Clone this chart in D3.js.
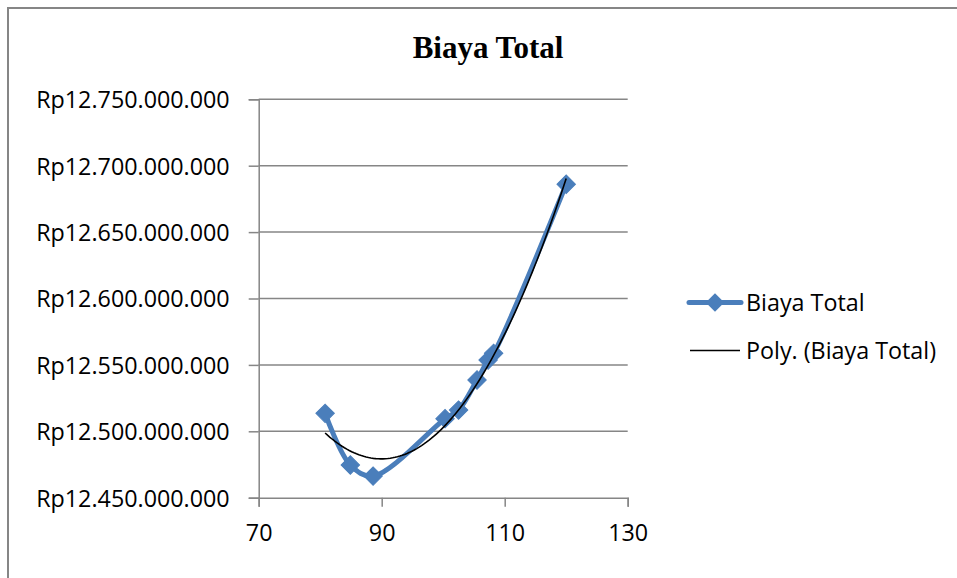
<!DOCTYPE html>
<html>
<head>
<meta charset="utf-8">
<script src="https://cdn.jsdelivr.net/npm/d3@7/dist/d3.min.js"></script>
<style>
  html, body { margin: 0; padding: 0; background: #fff; }
  svg { display: block; }
</style>
</head>
<body>
<svg id="chart" width="957" height="578"></svg>
<script>
// Output level (x) against total cost in rupiah (y)
const outputLevels = [80.8, 84.9, 88.6, 100.3, 102.5, 105.5, 107.3, 108.2, 120.0];
const totalCost = [12513500000, 12474600000, 12466300000, 12509500000, 12516000000,
                   12538600000, 12553600000, 12558700000, 12686000000];
const xTicks = [70, 90, 110, 130];
const yTicks = [12450000000, 12500000000, 12550000000, 12600000000, 12650000000, 12700000000, 12750000000];
const seriesName = "Biaya Total";
const trendName = "Poly. (Biaya Total)";

const svg = d3.select("#chart");
const blue = "#4A7EBB";
const gridColor = "#868686";
const labelFont = "'Open Sans', sans-serif";
const labelSize = 23.3;

const x = d3.scaleLinear().domain([70, 130]).range([258.7, 627.7]);
const y = d3.scaleLinear().domain([12450000000, 12750000000]).range([497.7, 99.3]);

// outer chart frame
svg.append("path")
  .attr("d", "M8,600 L8,8 L980,8")
  .attr("fill", "none").attr("stroke", gridColor).attr("stroke-width", 2);

// title
svg.append("text")
  .attr("x", 488).attr("y", 58)
  .attr("text-anchor", "middle")
  .attr("font-family", "'Liberation Serif', 'Times New Roman', serif")
  .attr("font-weight", "bold").attr("font-size", 31)
  .text("Biaya Total");

// horizontal gridlines
svg.append("g").selectAll("line").data(yTicks.slice(1)).join("line")
  .attr("x1", x(70)).attr("x2", x(130))
  .attr("y1", d => y(d)).attr("y2", d => y(d))
  .attr("stroke", gridColor).attr("stroke-width", 1.5);

// y axis
const fmtRp = d => "Rp" + d3.format(",")(d).replace(/,/g, ".");
const yAxis = svg.append("g")
  .attr("transform", `translate(${x(70)},0)`)
  .call(d3.axisLeft(y).tickValues(yTicks).tickSize(10).tickPadding(19).tickFormat(fmtRp));
yAxis.select(".domain").attr("stroke", gridColor).attr("stroke-width", 1.5);
yAxis.selectAll(".tick line").attr("stroke", gridColor).attr("stroke-width", 1.5);
yAxis.selectAll("text")
  .attr("font-family", labelFont).attr("font-size", labelSize)
  .attr("fill", "#000").attr("dy", "0.36em");

// x axis
const xAxis = svg.append("g")
  .attr("transform", `translate(0,${y(12450000000)})`)
  .call(d3.axisBottom(x).tickValues(xTicks).tickSize(9).tickPadding(18).tickFormat(d3.format("d")));
xAxis.select(".domain").attr("stroke", gridColor).attr("stroke-width", 1.5);
xAxis.selectAll(".tick line").attr("stroke", gridColor).attr("stroke-width", 1.5);
xAxis.selectAll("text")
  .attr("font-family", labelFont).attr("font-size", labelSize)
  .attr("fill", "#000").attr("dy", "0.72em");

// series line and diamond markers
const pts = outputLevels.map((v, i) => [v, totalCost[i]]);
svg.append("path")
  .datum(pts)
  .attr("fill", "none").attr("stroke", blue).attr("stroke-width", 5)
  .attr("stroke-linejoin", "round").attr("stroke-linecap", "round")
  .attr("d", d3.line().x(d => x(d[0])).y(d => y(d[1])).curve(d3.curveCatmullRom.alpha(0.5)));

const diamond = d3.symbol().type(d3.symbolSquare).size(170);
svg.append("g").selectAll("path").data(pts).join("path")
  .attr("transform", d => `translate(${x(d[0])},${y(d[1])}) rotate(45)`)
  .attr("d", diamond)
  .attr("fill", blue).attr("stroke", blue).attr("stroke-width", 1);

// second-order polynomial trendline (least squares)
function polyFit2(xs, ys) {
  const mx = d3.mean(xs);
  const u = xs.map(v => v - mx);
  const s = k => d3.sum(u, v => Math.pow(v, k));
  const t = k => d3.sum(u, (v, i) => Math.pow(v, k) * ys[i]);
  const A = [[s(0), s(1), s(2)], [s(1), s(2), s(3)], [s(2), s(3), s(4)]];
  const b = [t(0), t(1), t(2)];
  // Gaussian elimination
  for (let i = 0; i < 3; i++) {
    for (let j = i + 1; j < 3; j++) {
      const f = A[j][i] / A[i][i];
      for (let k = i; k < 3; k++) A[j][k] -= f * A[i][k];
      b[j] -= f * b[i];
    }
  }
  const c = [0, 0, 0];
  for (let i = 2; i >= 0; i--) {
    let acc = b[i];
    for (let k = i + 1; k < 3; k++) acc -= A[i][k] * c[k];
    c[i] = acc / A[i][i];
  }
  return v => c[0] + c[1] * (v - mx) + c[2] * (v - mx) * (v - mx);
}
const fit = polyFit2(outputLevels, totalCost);
const xMin = d3.min(outputLevels), xMax = d3.max(outputLevels);
const trendPts = d3.range(0, 101).map(i => {
  const v = xMin + (xMax - xMin) * i / 100;
  return [v, fit(v)];
});
svg.append("path")
  .datum(trendPts)
  .attr("fill", "none").attr("stroke", "#000").attr("stroke-width", 1.6)
  .attr("d", d3.line().x(d => x(d[0])).y(d => y(d[1])));

// legend
const legend = svg.append("g");
legend.append("line")
  .attr("x1", 689).attr("x2", 741).attr("y1", 302.5).attr("y2", 302.5)
  .attr("stroke", blue).attr("stroke-width", 5).attr("stroke-linecap", "round");
legend.append("path")
  .attr("transform", "translate(715,302.5) rotate(45)")
  .attr("d", diamond).attr("fill", blue);
legend.append("text")
  .attr("x", 746).attr("y", 302.5).attr("dy", "0.36em")
  .attr("font-family", labelFont).attr("font-size", labelSize)
  .text(seriesName);
legend.append("line")
  .attr("x1", 690).attr("x2", 740).attr("y1", 350.5).attr("y2", 350.5)
  .attr("stroke", "#000").attr("stroke-width", 1.6);
legend.append("text")
  .attr("x", 746).attr("y", 350.5).attr("dy", "0.36em")
  .attr("font-family", labelFont).attr("font-size", labelSize)
  .text(trendName);
</script>
</body>
</html>
